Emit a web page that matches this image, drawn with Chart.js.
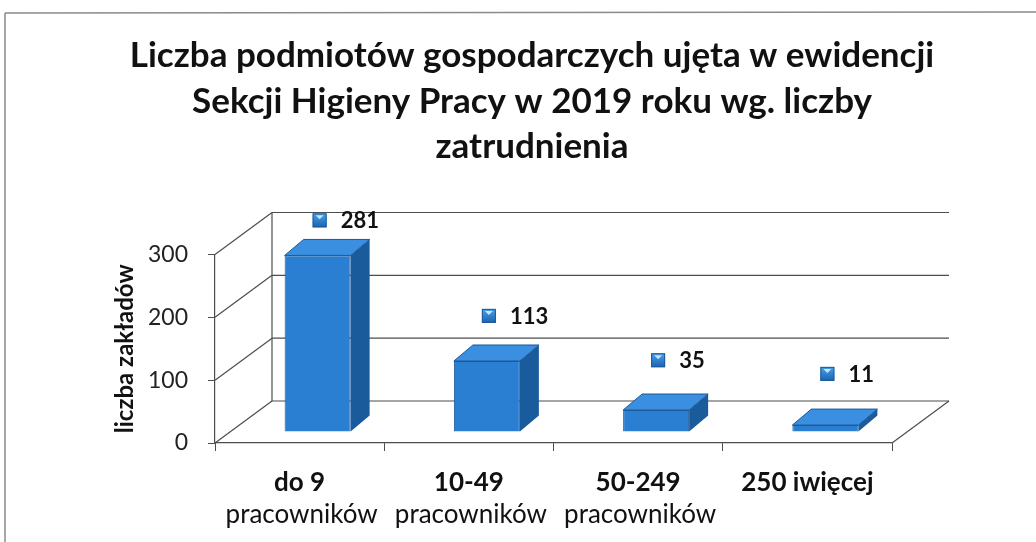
<!DOCTYPE html>
<html>
<head>
<meta charset="utf-8">
<script src="https://cdn.jsdelivr.net/npm/chart.js@4.4.1/dist/chart.umd.min.js"></script>
<style>
    html, body { margin: 0; padding: 0; background: #fff; }
    #wrap { position: relative; width: 1036px; height: 542px; }
</style>
</head>
<body>
<div id="wrap"><canvas id="chart-firms"></canvas></div>
<script>
const titleLines     = ['Liczba podmiotów gospodarczych ujęta w ewidencji', 'Sekcji Higieny Pracy w 2019 roku wg. liczby', 'zatrudnienia'];
const categoryTop    = ['do 9', '10-49', '50-249', '250 iwięcej'];
const categoryBottom = ['pracowników', 'pracowników', 'pracowników', ''];
const firmCounts     = [281, 113, 35, 11];
const yTicks         = [0, 100, 200, 300];

const FONT = 'Lato, "Open Sans", sans-serif';

// fake 3d: walls sit back by WALL, bars by SHIFT, bar depth is SIDE
const WALL  = [57, -42];
const SHIFT = [18, -11];
const SIDE  = [19, -16];

const C_FRONT = '#2a7fd3';
const C_SIDE  = '#1a5b9c';
const C_TOP   = '#3a8fe0';
const C_EDGE  = '#1c5a98';
const C_GRID  = '#4d4d4d';

function line(ctx, x1, y1, x2, y2) {
    ctx.beginPath();
    ctx.moveTo(x1, y1);
    ctx.lineTo(x2, y2);
    ctx.stroke();
}

function drawIcon(ctx, x, y) {
    const g = ctx.createLinearGradient(0, y - 7, 0, y + 7);
    g.addColorStop(0, '#4aa0ea');
    g.addColorStop(1, '#1a62b0');
    ctx.fillStyle = g;
    ctx.fillRect(x - 7, y - 7, 14, 14);
    ctx.strokeStyle = '#1b5a9a';
    ctx.lineWidth = 1;
    ctx.strokeRect(x - 6.5, y - 6.5, 13, 13);
    ctx.fillStyle = '#c4e6ff';
    ctx.beginPath();
    ctx.moveTo(x - 4, y - 5);
    ctx.lineTo(x + 4, y - 5);
    ctx.lineTo(x, y - 1);
    ctx.closePath();
    ctx.fill();
}

const box3d = {
    id: 'box3d',
    beforeDraw(chart) {
        // frame of the scanned page
        const ctx = chart.ctx;
        ctx.save();
        ctx.strokeStyle = '#8a8a8a';
        ctx.lineWidth = 1.5;
        line(ctx, 5, 13, 1036, 12);
        line(ctx, 5, 13, 5, 542);
        ctx.restore();
    },
    beforeDatasetsDraw(chart) {
        const { ctx, chartArea: a, scales: { y } } = chart;
        ctx.save();
        ctx.strokeStyle = C_GRID;
        ctx.lineWidth = 1.2;
        for (const v of yTicks) {
            const py = y.getPixelForValue(v);
            line(ctx, a.left, py, a.left + WALL[0], py + WALL[1]);
            line(ctx, a.left + WALL[0], py + WALL[1], a.right + WALL[0], py + WALL[1]);
        }
        const top = y.getPixelForValue(300) + WALL[1];
        const bot = y.getPixelForValue(0) + WALL[1];
        line(ctx, a.left + WALL[0], top, a.left + WALL[0], bot);
        line(ctx, a.right, a.bottom, a.right + WALL[0], a.bottom + WALL[1]);
        ctx.restore();

        ctx.save();
        ctx.translate(SHIFT[0], SHIFT[1]);
    },
    afterDatasetsDraw(chart) {
        const { ctx, chartArea: a } = chart;
        const bars = chart.getDatasetMeta(0).data;

        for (const b of bars) {
            const l = b.x - b.width / 2, r = b.x + b.width / 2;
            ctx.strokeStyle = C_EDGE;
            ctx.lineWidth = 1;
            // side
            ctx.fillStyle = C_SIDE;
            ctx.beginPath();
            ctx.moveTo(r, b.base);
            ctx.lineTo(r + SIDE[0], b.base + SIDE[1]);
            ctx.lineTo(r + SIDE[0], b.y + SIDE[1]);
            ctx.lineTo(r, b.y);
            ctx.closePath();
            ctx.fill();
            // top
            ctx.fillStyle = C_TOP;
            ctx.beginPath();
            ctx.moveTo(l, b.y);
            ctx.lineTo(l + SIDE[0], b.y + SIDE[1]);
            ctx.lineTo(r + SIDE[0], b.y + SIDE[1]);
            ctx.lineTo(r, b.y);
            ctx.closePath();
            ctx.fill();
            ctx.stroke();
        }
        ctx.restore();

        // value labels with the little legend key
        ctx.save();
        ctx.font = `bold 22px ${FONT}`;
        ctx.textBaseline = 'middle';
        ctx.textAlign = 'left';
        bars.forEach((b, i) => {
            const ty = b.y + SHIFT[1];
            const iy = ty - 35 - 0.095 * (ty - a.top);
            const ix = b.x + SHIFT[0] + 2;
            drawIcon(ctx, ix, iy);
            ctx.fillStyle = '#111';
            ctx.fillText(String(firmCounts[i]), ix + 21, iy + 1);
        });
        ctx.restore();
    },
    afterDraw(chart) {
        const { ctx, chartArea: a, scales: { x } } = chart;
        ctx.save();
        ctx.fillStyle = '#111';
        ctx.textAlign = 'center';
        ctx.textBaseline = 'middle';
        categoryTop.forEach((t, i) => {
            const px = x.getPixelForValue(i);
            ctx.font = `bold 26px ${FONT}`;
            ctx.fillText(t, px, a.bottom + 40);
            ctx.font = `26px ${FONT}`;
            ctx.fillText(categoryBottom[i], px + 2, a.bottom + 72);
        });
        ctx.restore();
    },
};

new Chart(document.getElementById('chart-firms'), {
    type: 'bar',
    data: {
        labels: categoryTop,
        datasets: [{
            label: 'liczba zakładów',
            data: firmCounts,
            backgroundColor: C_FRONT,
            borderColor: C_EDGE,
            borderWidth: 1,
            categoryPercentage: 1,
            barPercentage: 0.39,
            clip: false,
        }],
    },
    options: {
        responsive: true,
        maintainAspectRatio: false,
        animation: false,
        layout: { padding: { left: 28, right: 0, top: 0, bottom: 0 } },
        plugins: {
            legend: { display: false },
            tooltip: { enabled: false },
            title: {
                display: true,
                text: titleLines,
                color: '#111',
                font: { family: FONT, size: 35, weight: 'bold', lineHeight: 1.3 },
                padding: { top: 33, bottom: 85 },
            },
        },
        scales: {
            x: {
                grid: { drawOnChartArea: false, drawTicks: true, tickLength: 8, color: C_GRID },
                border: { display: true, color: C_GRID, width: 1.2 },
                ticks: { display: false },
                afterFit: s => { s.height = 99; },
            },
            y: {
                min: 0,
                max: 300,
                afterBuildTicks: s => { s.ticks = yTicks.map(v => ({ value: v })); },
                grid: { drawOnChartArea: false, drawTicks: true, tickLength: 7, color: C_GRID },
                border: { display: true, color: C_GRID, width: 1.2 },
                ticks: { color: '#222', padding: 20, font: { family: FONT, size: 23 } },
                title: {
                    display: true,
                    text: 'liczba zakładów',
                    color: '#111',
                    font: { family: FONT, size: 24, weight: 'bold' },
                    padding: { top: 83, bottom: 0 },
                },
                afterFit: s => { s.width = 187; },
            },
            // empty strip on the right where the back wall sticks out
            yRight: {
                position: 'right',
                grid: { display: false },
                border: { display: false },
                ticks: { display: false },
                afterFit: s => { s.width = 144; },
            },
        },
    },
    plugins: [box3d],
});
</script>
</body>
</html>
